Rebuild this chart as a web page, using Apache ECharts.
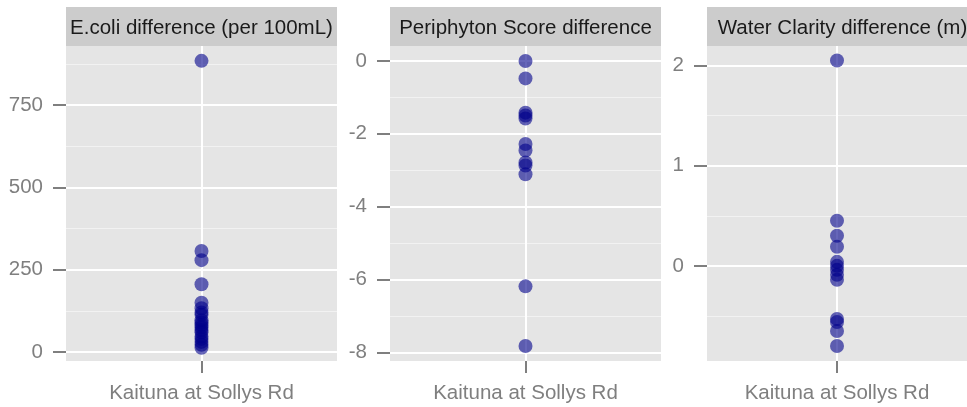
<!DOCTYPE html>
<html>
<head>
<meta charset="utf-8">
<script src="https://cdn.jsdelivr.net/npm/echarts@6/dist/echarts.min.js"></script>
<style>
  html, body { margin: 0; padding: 0; background: #ffffff; }
  #chart { width: 967px; height: 407px; }
</style>
</head>
<body>
<div id="chart"></div>
<script>
// Site shown on every facet (discrete x positions 1..n)
const sites = ['Kaituna at Sollys Rd'];
const sitePositions = [1];

// Facet titles
const facetTitles = ['E.coli difference (per 100mL)', 'Periphyton Score difference', 'Water Clarity difference (m)'];

// Differences per sampling pair
const ecoliDiff = [884, 307, 279, 206, 150, 133, 120, 113, 97, 90, 82, 75, 67, 60, 47, 40, 31, 22, 13];
const periphytonDiff = [0, -0.48, -1.42, -1.5, -1.58, -2.28, -2.46, -2.79, -2.87, -3.11, -6.19, -7.83];
const clarityDiff = [2.05, 0.45, 0.30, 0.19, 0.04, 0.0, -0.04, -0.09, -0.14, -0.53, -0.56, -0.65, -0.80];

// Axis ticks (major, labelled) and minor gridline values
const ecoliTicks = [0, 250, 500, 750];
const ecoliMinor = [125, 375, 625, 875];
const periphytonTicks = [0, -2, -4, -6, -8];
const periphytonMinor = [-1, -3, -5, -7];
const clarityTicks = [0, 1, 2];
const clarityMinor = [-0.5, 0.5, 1.5];

// Axis ranges (data range with 5% padding)
const ecoliRange = [-27, 929];
const periphytonRange = [-8.24, 0.41];
const clarityRange = [-0.95, 2.195];
const siteRange = [0.4, 1.6];

const FONT = "'Liberation Sans', Arial, sans-serif";
const GREY = '#7f7f7f';

const panels = [
  { values: ecoliDiff, ticks: ecoliTicks, minor: ecoliMinor, range: ecoliRange, left: 66 },
  { values: periphytonDiff, ticks: periphytonTicks, minor: periphytonMinor, range: periphytonRange, left: 390 },
  { values: clarityDiff, ticks: clarityTicks, minor: clarityMinor, range: clarityRange, left: 707 }
];
const PANEL_TOP = 46, PANEL_H = 315, PANEL_W = 271, STRIP_TOP = 7;

const grid = [], xAxis = [], yAxis = [], series = [], graphic = [];

panels.forEach((p, i) => {
  grid.push({
    left: p.left, top: PANEL_TOP, width: PANEL_W, height: PANEL_H,
    show: true, backgroundColor: '#e5e5e5', borderWidth: 0
  });
  xAxis.push({
    type: 'value', gridIndex: i, min: siteRange[0], max: siteRange[1], position: 'bottom',
    axisLine: { show: true, onZero: false, lineStyle: { color: 'rgba(0,0,0,0)' } },
    axisTick: { show: true, length: 12, customValues: sitePositions, lineStyle: { color: GREY, width: 2 } },
    axisLabel: {
      color: GREY, fontSize: 20.5, fontFamily: FONT, margin: 22,
      customValues: sitePositions,
      formatter: v => sites[Math.round(v) - 1]
    },
    splitLine: { show: false }
  });
  yAxis.push({
    type: 'value', gridIndex: i, min: p.range[0], max: p.range[1],
    axisLine: { show: false },
    axisTick: { show: true, length: 13, customValues: p.ticks, lineStyle: { color: GREY, width: 2 } },
    axisLabel: { color: GREY, fontSize: 20.5, fontFamily: FONT, margin: 23, customValues: p.ticks },
    splitLine: { show: false },
    minorSplitLine: { show: false }
  });

  const lines = [];
  p.minor.forEach(v => lines.push({ yAxis: v, lineStyle: { color: '#f2f2f2', width: 1, type: 'solid' } }));
  p.ticks.forEach(v => lines.push({ yAxis: v, lineStyle: { color: '#ffffff', width: 2, type: 'solid' } }));
  sitePositions.forEach(s => lines.push({ xAxis: s, lineStyle: { color: '#ffffff', width: 2, type: 'solid' } }));

  series.push({
    type: 'scatter', xAxisIndex: i, yAxisIndex: i, z: 3,
    data: p.values.map(v => [sitePositions[0], v]),
    symbol: 'circle', symbolSize: 14,
    itemStyle: { color: 'rgba(0,0,139,0.6)', opacity: 1 },
    silent: true,
    markLine: {
      z: 1, silent: true, symbol: ['none', 'none'],
      label: { show: false },
      lineStyle: { type: 'solid' },
      emphasis: { disabled: true },
      data: lines
    }
  });

  // Facet strip
  graphic.push({
    type: 'rect', left: p.left, top: STRIP_TOP, silent: true,
    shape: { width: PANEL_W, height: PANEL_TOP - STRIP_TOP },
    style: { fill: '#cccccc' }
  });
  graphic.push({
    type: 'text', x: p.left + PANEL_W / 2, y: (STRIP_TOP + PANEL_TOP) / 2 + 2, silent: true,
    style: {
      text: facetTitles[i], fill: '#1a1a1a', font: '20.5px ' + FONT,
      textAlign: 'center', textVerticalAlign: 'middle'
    }
  });
});

const chart = echarts.init(document.getElementById('chart'), null, { renderer: 'canvas' });
chart.setOption({
  animation: false,
  backgroundColor: '#ffffff',
  grid, xAxis, yAxis, series, graphic
});
</script>
</body>
</html>
